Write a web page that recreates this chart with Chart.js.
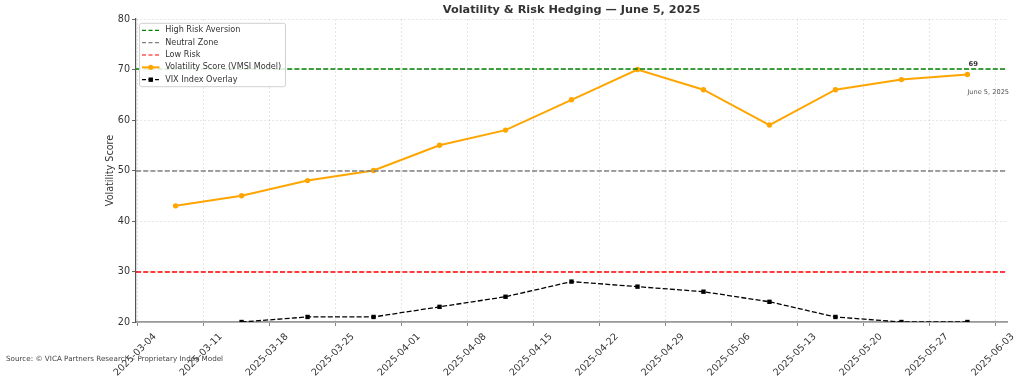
<!DOCTYPE html>
<html>
<head>
<meta charset="utf-8">
<script src="https://cdn.jsdelivr.net/npm/chart.js@4.4.1/dist/chart.umd.min.js"></script>
<style>
  html, body { margin: 0; padding: 0; background: #fff; }
  #wrap { width: 1024px; height: 378px; }
</style>
</head>
<body>
<div id="wrap"><canvas id="volChart" width="1024" height="378"></canvas></div>
<script>
// weekly observations
const weekDates = ['2025-03-08', '2025-03-15', '2025-03-22', '2025-03-29', '2025-04-05', '2025-04-12',
    '2025-04-19', '2025-04-26', '2025-05-03', '2025-05-10', '2025-05-17', '2025-05-24', '2025-05-31'];
const vmsiScores = [43, 45, 48, 50, 55, 58, 64, 70, 66, 59, 66, 68, 69];
const vixOverlay = [null, 20, 21, 21, 23, 25, 28, 27, 26, 24, 21, 20, 20];

// risk zones (horizontal reference lines)
const zoneNames = ['High Risk Aversion', 'Neutral Zone', 'Low Risk'];
const zoneLevels = [70, 50, 30];
const zoneColors = ['rgb(0,128,0)', 'rgb(128,128,128)', 'rgb(255,0,0)'];

// axis ticks
const tickDates = ['2025-03-04', '2025-03-11', '2025-03-18', '2025-03-25', '2025-04-01', '2025-04-08',
    '2025-04-15', '2025-04-22', '2025-04-29', '2025-05-06', '2025-05-13', '2025-05-20', '2025-05-27', '2025-06-03'];
const yTicks = [20, 30, 40, 50, 60, 70, 80];

const lastLabel = 'June 5, 2025';
const FONT = "'DejaVu Sans', sans-serif";

const baseDay = Date.parse(tickDates[0]);
function dayOf(s) {
    return (Date.parse(s) - baseDay) / 86400000;
}

// same auto margin as matplotlib (5% each side)
const firstDay = dayOf(weekDates[0]);
const lastDay = dayOf(weekDates[weekDates.length - 1]);
const xMin = firstDay - (lastDay - firstDay) * 0.05;
const xMax = lastDay + (lastDay - firstDay) * 0.05;

const vmsiSet = {
    label: 'Volatility Score (VMSI Model)',
    data: weekDates.map((d, i) => ({ x: dayOf(d), y: vmsiScores[i] })),
    borderColor: '#ffa500',
    backgroundColor: '#ffa500',
    borderWidth: 2,
    pointRadius: 2.7,
    pointBorderWidth: 0,
    tension: 0,
    order: 2
};

const vixSet = {
    label: 'VIX Index Overlay',
    data: weekDates.map((d, i) => ({ x: dayOf(d), y: vixOverlay[i] })),
    borderColor: '#000000',
    backgroundColor: '#000000',
    borderWidth: 1.3,
    borderDash: [5, 2.2],
    pointStyle: 'rect',
    pointRadius: 3.1,
    pointBorderWidth: 0,
    tension: 0,
    order: 1
};

const legendItems = [
    { text: zoneNames[0], color: zoneColors[0], dash: [4, 2.5], marker: null },
    { text: zoneNames[1], color: zoneColors[1], dash: [4, 2.5], marker: null },
    { text: zoneNames[2], color: zoneColors[2], dash: [4, 2.5], marker: null },
    { text: vmsiSet.label, color: '#ffa500', dash: [], marker: 'circle', width: 2 },
    { text: vixSet.label, color: '#000', dash: [4, 2.5], marker: 'rect', width: 1.3 }
];

const overlay = {
    id: 'overlay',
    afterDatasetsDraw(chart) {
        const ctx = chart.ctx;
        const area = chart.chartArea;
        const yScale = chart.scales.y;

        // zone reference lines, placed through the y scale
        ctx.save();
        zoneLevels.forEach((lvl, i) => {
            const y = Math.round(yScale.getPixelForValue(lvl));
            ctx.strokeStyle = zoneColors[i];
            ctx.lineWidth = 1.3;
            ctx.setLineDash([5, 2.2]);
            ctx.beginPath();
            ctx.moveTo(area.left, y);
            ctx.lineTo(area.right, y);
            ctx.stroke();
        });
        ctx.restore();

        // last point annotation
        const meta = chart.getDatasetMeta(0);
        const last = meta.data[meta.data.length - 1];
        ctx.save();
        ctx.textBaseline = 'middle';
        ctx.textAlign = 'left';
        ctx.fillStyle = '#333';
        ctx.font = 'bold 6.8px ' + FONT;
        ctx.fillText(String(vmsiScores[vmsiScores.length - 1]), last.x + 1, last.y - 10.5);
        ctx.fillStyle = '#555';
        ctx.font = '6.6px ' + FONT;
        ctx.fillText(lastLabel, last.x, last.y + 18);
        ctx.restore();

        // legend box
        const lx = area.left + 3.5, ly = area.top + 4.3, lw = 146, lh = 63.4;
        ctx.save();
        ctx.fillStyle = 'rgba(255,255,255,0.85)';
        ctx.strokeStyle = '#d0d0d0';
        ctx.lineWidth = 1;
        ctx.beginPath();
        ctx.roundRect(lx, ly, lw, lh, 2);
        ctx.fill();
        ctx.stroke();
        ctx.font = '8.1px ' + FONT;
        ctx.textBaseline = 'middle';
        legendItems.forEach((it, i) => {
            const y = ly + 7 + i * 12.35;
            const x0 = lx + 2.5, x1 = lx + 20;
            ctx.strokeStyle = it.color;
            ctx.lineWidth = it.width || 1.2;
            ctx.setLineDash(it.dash);
            ctx.beginPath();
            ctx.moveTo(x0, y);
            ctx.lineTo(x1, y);
            ctx.stroke();
            ctx.setLineDash([]);
            ctx.fillStyle = it.color;
            if (it.marker === 'circle') {
                ctx.beginPath();
                ctx.arc((x0 + x1) / 2, y, 2.6, 0, Math.PI * 2);
                ctx.fill();
            } else if (it.marker === 'rect') {
                ctx.fillRect((x0 + x1) / 2 - 2.2, y - 2.2, 4.4, 4.4);
            }
            ctx.fillStyle = '#333';
            ctx.fillText(it.text, lx + 25.7, y);
        });
        ctx.restore();
    },
    afterDraw(chart) {
        const ctx = chart.ctx;
        const area = chart.chartArea;
        ctx.save();
        ctx.fillStyle = '#333';
        ctx.textAlign = 'center';
        ctx.textBaseline = 'middle';
        ctx.font = 'bold 11.3px ' + FONT;
        ctx.fillText('Volatility & Risk Hedging — June 5, 2025', (area.left + area.right) / 2, 10.5);
        ctx.textAlign = 'left';
        ctx.fillStyle = '#444';
        ctx.font = '7.2px ' + FONT;
        ctx.fillText('Source: © VICA Partners Research – Proprietary Index Model', 6, 359);
        ctx.restore();
    }
};

const ctx = document.getElementById('volChart').getContext('2d');
const chart = new Chart(ctx, {
    type: 'line',
    data: { datasets: [vmsiSet, vixSet] },
    options: {
        responsive: false,
        animation: false,
        devicePixelRatio: 1,
        layout: { padding: { top: 19, right: 17, left: 96, bottom: 0 } },
        plugins: {
            legend: { display: false },
            title: { display: false },
            tooltip: { enabled: false }
        },
        scales: {
            x: {
                type: 'linear',
                min: xMin,
                max: xMax,
                afterBuildTicks: function (scale) {
                    scale.ticks = tickDates.map(d => ({ value: dayOf(d) }));
                },
                afterFit: function (scale) {
                    scale.height = 56;
                },
                ticks: {
                    autoSkip: false,
                    minRotation: 45,
                    maxRotation: 45,
                    labelOffset: 17,
                    padding: 5,
                    color: '#333',
                    font: { family: FONT, size: 9.6 },
                    callback: function (value) {
                        const d = tickDates.find(t => dayOf(t) === value);
                        return d || '';
                    }
                },
                grid: {
                    color: 'rgba(0,0,0,0.1)',
                    lineWidth: 1,
                    tickColor: '#888',
                    tickLength: 4,
                    tickWidth: 1,
                    tickBorderDash: []
                },
                border: { color: '#999', width: 1.8, dash: [2, 2] }
            },
            y: {
                min: 20,
                max: 80,
                afterBuildTicks: function (scale) {
                    scale.ticks = yTicks.map(v => ({ value: v }));
                },
                afterFit: function (scale) {
                    scale.width = 40;
                },
                ticks: {
                    padding: 2,
                    color: '#333',
                    font: { family: FONT, size: 9.6 }
                },
                title: {
                    display: true,
                    text: 'Volatility Score',
                    color: '#333',
                    font: { family: FONT, size: 9.6 },
                    padding: { top: 9, bottom: 2 }
                },
                grid: {
                    color: 'rgba(0,0,0,0.1)',
                    lineWidth: 1,
                    tickColor: '#666',
                    tickLength: 4,
                    tickWidth: 1,
                    tickBorderDash: []
                },
                border: { color: '#555', width: 1.2, dash: [2, 2] }
            }
        }
    },
    plugins: [overlay]
});
</script>
</body>
</html>
